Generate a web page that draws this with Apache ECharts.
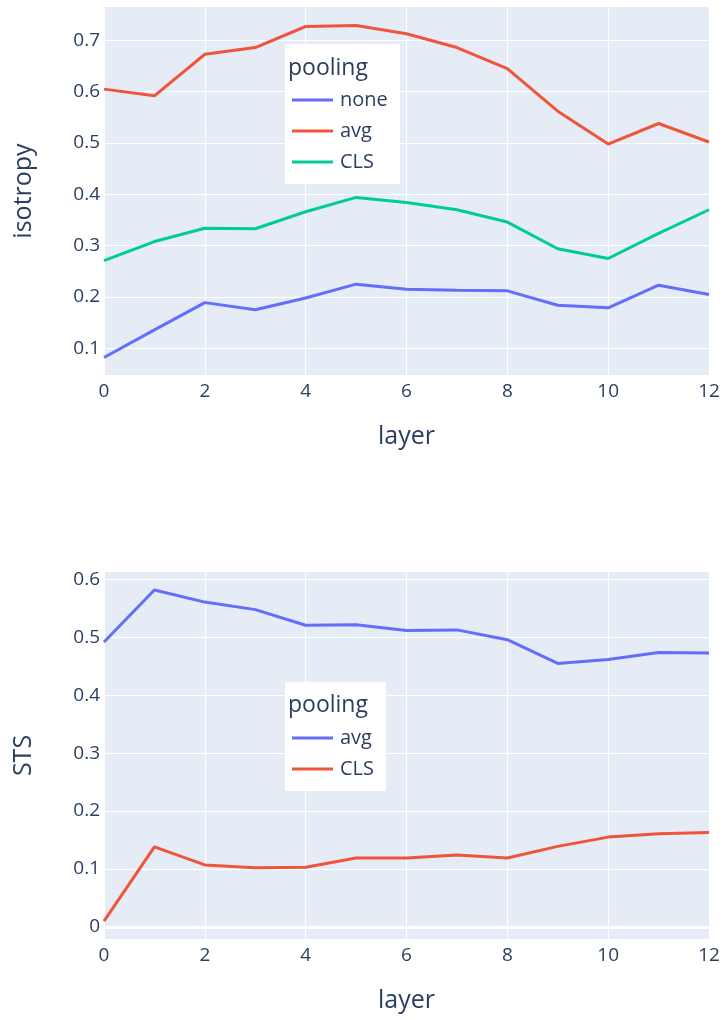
<!DOCTYPE html>
<html>
<head>
<meta charset="utf-8">
<script src="https://cdn.jsdelivr.net/npm/echarts@6/dist/echarts.min.js"></script>
<style>
  html, body { margin: 0; padding: 0; background: #ffffff; }
  #chart { width: 725px; height: 1020px; }
</style>
</head>
<body>
<div id="chart"></div>
<script>
// Layer index on the x axis of both panels
const layers = [0, 1, 2, 3, 4, 5, 6, 7, 8, 9, 10, 11, 12];

// Isotropy per layer, by pooling strategy
const isoNone = [0.082, 0.136, 0.189, 0.175, 0.198, 0.225, 0.215, 0.213, 0.212, 0.184, 0.179, 0.223, 0.205];
const isoAvg  = [0.605, 0.592, 0.673, 0.686, 0.727, 0.729, 0.713, 0.686, 0.645, 0.562, 0.498, 0.538, 0.502];
const isoCls  = [0.271, 0.308, 0.334, 0.333, 0.366, 0.394, 0.384, 0.370, 0.346, 0.294, 0.275, 0.324, 0.370];

// STS score per layer, by pooling strategy
const stsAvg = [0.492, 0.582, 0.561, 0.548, 0.521, 0.522, 0.512, 0.513, 0.496, 0.455, 0.462, 0.474, 0.473];
const stsCls = [0.010, 0.138, 0.107, 0.102, 0.103, 0.119, 0.119, 0.124, 0.119, 0.139, 0.155, 0.161, 0.163];

// Tick values
const isoTicks = [0.1, 0.2, 0.3, 0.4, 0.5, 0.6, 0.7];
const stsTicks = [0, 0.1, 0.2, 0.3, 0.4, 0.5, 0.6];

const BLUE = '#636efa', RED = '#EF553B', GREEN = '#00cc96';
const INK = '#2a3f5f';
const FONT = '"Open Sans", "Liberation Sans", sans-serif';

const pairs = ys => layers.map((x, i) => [x, ys[i]]);

function xAxisFor(gridIndex) {
  return {
    type: 'value', gridIndex, min: 0, max: 12, interval: 2,
    name: 'layer', nameLocation: 'middle', nameGap: 49,
    nameTextStyle: { fontSize: 25, color: INK, fontFamily: FONT },
    axisLine: { show: false }, axisTick: { show: false },
    axisLabel: { fontSize: 19, color: INK, fontFamily: FONT, margin: 7 },
    splitLine: { show: true, lineStyle: { color: '#ffffff', width: 1 } }
  };
}

function yAxisFor(gridIndex, name, min, max, ticks) {
  return {
    type: 'value', gridIndex, min, max,
    name, nameLocation: 'middle', nameGap: 68, nameRotate: 90,
    nameTextStyle: { fontSize: 25, color: INK, fontFamily: FONT },
    axisLine: { show: false },
    axisTick: { show: false, customValues: ticks },
    axisLabel: { fontSize: 19, color: INK, fontFamily: FONT, margin: 4, customValues: ticks },
    splitLine: { show: true, lineStyle: { color: '#ffffff', width: 1 } }
  };
}

function lineSeries(name, color, xi, data) {
  return {
    type: 'line', name, xAxisIndex: xi, yAxisIndex: xi,
    data: pairs(data), symbol: 'none', smooth: false, z: 3,
    lineStyle: { color, width: 3 }, itemStyle: { color },
    emphasis: { disabled: true }
  };
}

function legendFor(top, items) {
  return {
    orient: 'vertical', left: 285, top,
    backgroundColor: '#ffffff',
    padding: [46, 12, 12, 7],
    icon: 'rect', itemWidth: 41, itemHeight: 3, itemGap: 11,
    selectedMode: false,
    textStyle: { fontSize: 20, color: INK, fontFamily: FONT, lineHeight: 20, padding: [0, 0, 0, 2] },
    data: items.map(([name, color]) => ({ name, itemStyle: { color }, lineStyle: { color } }))
  };
}

const chart = echarts.init(document.getElementById('chart'), null, { renderer: 'canvas' });

chart.setOption({
  animation: false,
  backgroundColor: '#ffffff',
  grid: [
    { left: 104, top: 7, width: 605, height: 368, backgroundColor: '#e5ecf6', show: true, borderWidth: 0 },
    { left: 104, top: 572, width: 605, height: 367, backgroundColor: '#e5ecf6', show: true, borderWidth: 0 }
  ],
  xAxis: [xAxisFor(0), xAxisFor(1)],
  yAxis: [
    yAxisFor(0, 'isotropy', 0.048, 0.765, isoTicks),
    yAxisFor(1, 'STS', -0.021, 0.613, stsTicks)
  ],
  legend: [
    legendFor(44, [['none', BLUE], ['avg', RED], ['CLS', GREEN]]),
    legendFor(682, [['avg', BLUE], ['CLS', RED]])
  ],
  // legend headings
  graphic: [
    { type: 'text', z: 100, zlevel: 1, left: 288, top: 57, style: { text: 'pooling', fontSize: 23, fill: INK, fontFamily: FONT } },
    { type: 'text', z: 100, zlevel: 1, left: 288, top: 694, style: { text: 'pooling', fontSize: 23, fill: INK, fontFamily: FONT } }
  ],
  series: [
    // zero line of the STS panel, drawn beneath the traces
    {
      type: 'line', name: 'zero', xAxisIndex: 1, yAxisIndex: 1, data: [], z: 1, silent: true,
      markLine: {
        silent: true, symbol: 'none', label: { show: false },
        lineStyle: { color: '#ffffff', width: 3, type: 'solid' },
        data: [{ yAxis: 0 }]
      }
    },
    lineSeries('none', BLUE, 0, isoNone),
    lineSeries('avg', RED, 0, isoAvg),
    lineSeries('CLS', GREEN, 0, isoCls),
    lineSeries('avg', BLUE, 1, stsAvg),
    lineSeries('CLS', RED, 1, stsCls)
  ]
});
</script>
</body>
</html>
